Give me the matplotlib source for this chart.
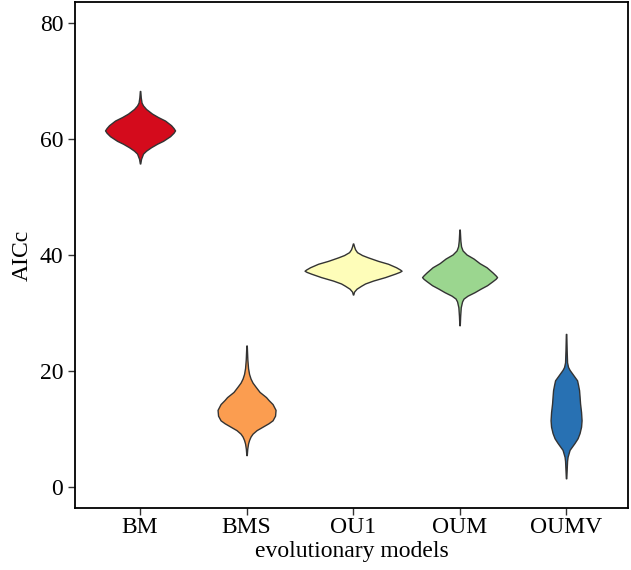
import matplotlib
matplotlib.use('Agg')
import matplotlib.pyplot as plt
import numpy as np

plt.rcParams['font.family'] = ['Liberation Serif', 'DejaVu Serif']

# Data: estimated density profile of AICc for each model
# (AICc level, relative density)
models = ['BM', 'BMS', 'OU1', 'OUM', 'OUMV']
colors = ['#d40b1c', '#fb9d50', '#fefdb9', '#9bd68f', '#2871b3']

bm_aic = [55.8, 56.6, 57.5, 58.0, 58.6, 59.2, 59.7, 60.5, 61.1, 61.5, 61.9,
          62.4, 63.2, 63.8, 64.4, 65.2, 65.8, 66.3, 67.2, 68.3]
bm_dens = [0, 1, 3, 6, 11, 17, 23, 30, 33.5, 35, 33.5, 31, 25, 18, 12, 6, 3,
           1.5, 0.7, 0]

bms_aic = [5.5, 6.6, 7.5, 8.1, 8.7, 9.2, 9.8, 10.4, 11.0, 11.5, 12.3, 13.3,
           14.3, 15.0, 15.5, 16.4, 17.3, 18.0, 18.7, 19.5, 20.5, 22.0, 24.4]
bms_dens = [0, 0.7, 1.5, 2.5, 4, 6, 10, 16, 22, 26, 28.5, 29, 26, 22, 19.5,
            13, 9, 6, 4, 2.5, 1.5, 0.8, 0]

ou1_aic = [33.2, 33.7, 34.2, 34.7, 35.1, 35.6, 36.2, 36.8, 37.1, 37.3, 37.5,
           37.9, 38.5, 39.0, 39.6, 40.0, 40.5, 41.0, 41.5, 42.0]
ou1_dens = [0, 1, 3.5, 8, 12, 20, 32, 42, 46.5, 48.5, 47, 43, 35, 25, 15, 9,
            4, 2, 1, 0]

oum_aic = [27.9, 29.5, 31.0, 32.0, 32.5, 33.0, 33.6, 34.2, 34.8, 35.5, 35.9,
           36.2, 36.5, 37.0, 37.9, 38.6, 39.4, 40.1, 40.8, 41.5, 42.5, 44.4]
oum_dens = [0, 0.6, 1.2, 2.5, 4, 8, 15, 21, 27.5, 33, 36, 37.5, 36, 33, 27,
            20, 14, 7, 3, 1.5, 0.8, 0]

oumv_aic = [1.5, 3.0, 4.5, 5.2, 5.8, 6.4, 7.0, 7.6, 8.4, 9.3, 10.4, 11.5, 12.9,
            14.4, 15.6, 16.7, 17.6, 18.4, 19.0, 19.6, 20.2, 20.7, 21.5, 23.5,
            26.4]
oumv_dens = [0, 0.6, 1, 1.5, 2.5, 3.5, 6, 8.5, 11.5, 13.5, 15, 15.5, 15, 14,
             13.5, 13, 12, 11, 8.5, 6, 3.5, 2, 1, 0.6, 0]

aics = [bm_aic, bms_aic, ou1_aic, oum_aic, oumv_aic]
denss = [bm_dens, bms_dens, ou1_dens, oum_dens, oumv_dens]

# Create figure and axes
fig = plt.figure(figsize=(6.31, 5.70), dpi=100)
ax = fig.add_axes([0.119, 0.109, 0.876, 0.887])

width_scale = 1 / 106.5  # density units -> x units
for i, (a, d) in enumerate(zip(aics, denss)):
    a = np.array(a)
    d = np.array(d) * width_scale
    d = np.maximum(d, 0.002)
    ax.fill_betweenx(a, i - d, i + d, facecolor=colors[i],
                     edgecolor='#333333', linewidth=1.0, joinstyle='round')

# Axes styling
ax.set_xlim(-0.61, 4.58)
ax.set_ylim(-3.6, 83.6)
ax.set_xticks(range(len(models)))
ax.set_xticklabels(models)
ax.set_yticks([0, 20, 40, 60, 80])
ax.tick_params(axis='both', labelsize=17, length=5, width=1.0,
               color='#333333', direction='out')
ax.tick_params(axis='x', pad=1.5)
for s in ax.spines.values():
    s.set_linewidth(1.3)
    s.set_color('black')

ax.set_xlabel('evolutionary models', fontsize=17, labelpad=2)
ax.set_ylabel('AICc', fontsize=17, labelpad=5)

fig.savefig('out.png', dpi=100)
